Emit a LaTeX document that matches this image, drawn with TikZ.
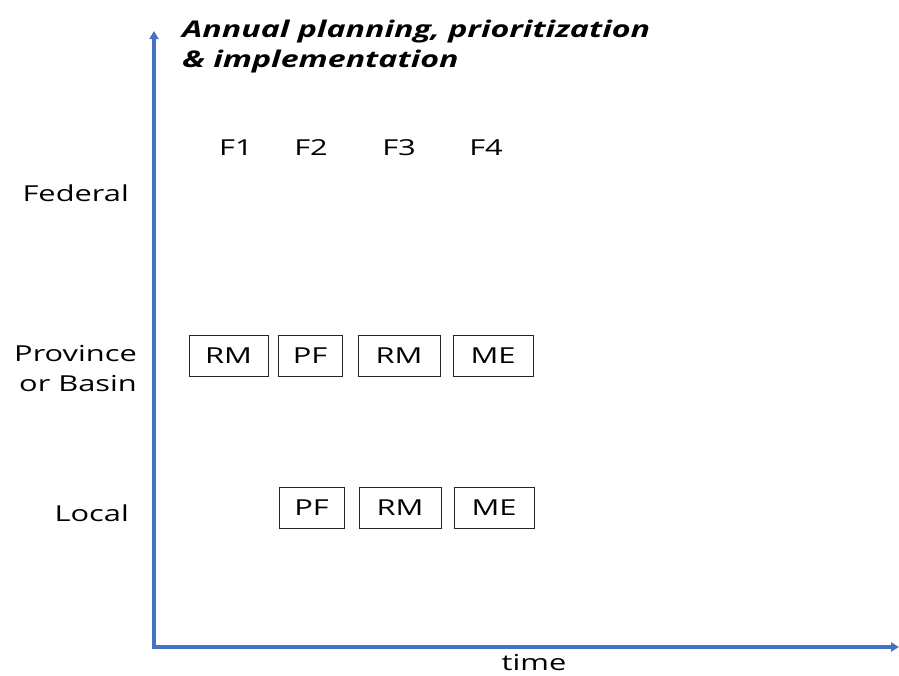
\documentclass[tikz,border=0pt]{standalone}
\usepackage{fontspec}
\usepackage{graphicx}
\setmainfont{Open Sans}
\usetikzlibrary{arrows.meta}
\definecolor{axisblue}{RGB}{68,114,196}
\newcommand{\wide}[1]{\scalebox{1.4}[1]{#1}}
\begin{document}
\begin{tikzpicture}[x=1pt,y=-1pt,
  lbl/.style={inner sep=0pt, font=\fontsize{22}{30}\selectfont},
  stage/.style={draw=black!85, line width=1pt, minimum height=41pt, inner sep=0pt, font=\fontsize{22}{26}\selectfont},
  axis/.style={draw=axisblue, line width=3.5pt, -{Triangle[width=9pt,length=8pt]}}]
\useasboundingbox (0,0) rectangle (899,675);
\coordinate (o) at (154,647);
\coordinate (ytop) at (154,31);
\coordinate (xend) at (899,647);
\draw[axis] ([yshift=-1.75pt]o) -- (ytop);
\draw[axis] ([xshift=-1.75pt]o) -- (xend);
\node[lbl, anchor=base west, font=\fontsize{23}{30}\selectfont\bfseries\itshape] (title) at (182,37)
  {\wide{\begin{tabular}[t]{@{}l@{}}Annual planning, prioritization\\\& implementation\end{tabular}}};
\node[lbl, anchor=base] (f1) at (236,155) {\wide{F1}};
\node[lbl, anchor=base] (f2) at (311,155) {\wide{F2}};
\node[lbl, anchor=base] (f3) at (399,155) {\wide{F3}};
\node[lbl, anchor=base] (f4) at (486,155) {\wide{F4}};
\node[lbl, anchor=base east] (federal) at (129,201) {\wide{Federal}};
\node[lbl, anchor=base east] (prov) at (137,361)
  {\wide{\begin{tabular}[t]{@{}r@{}}Province\\or Basin\end{tabular}}};
\node[lbl, anchor=base east] (local) at (129,521) {\wide{Local}};
\node[lbl, anchor=base, text depth=0pt] (time) at (534,670) {\wide{time}};
\node[stage, minimum width=79pt] (p1) at (228.5,356) {\wide{RM}};
\node[stage, minimum width=64pt] (p2) at (310,356) {\wide{PF}};
\node[stage, minimum width=82pt] (p3) at (399,356) {\wide{RM}};
\node[stage, minimum width=80pt] (p4) at (493,356) {\wide{ME}};
\node[stage, minimum width=65pt] (l1) at (311.5,507.5) {\wide{PF}};
\node[stage, minimum width=82pt] (l2) at (400,507.5) {\wide{RM}};
\node[stage, minimum width=80pt] (l3) at (494,507.5) {\wide{ME}};
\end{tikzpicture}
\end{document}
